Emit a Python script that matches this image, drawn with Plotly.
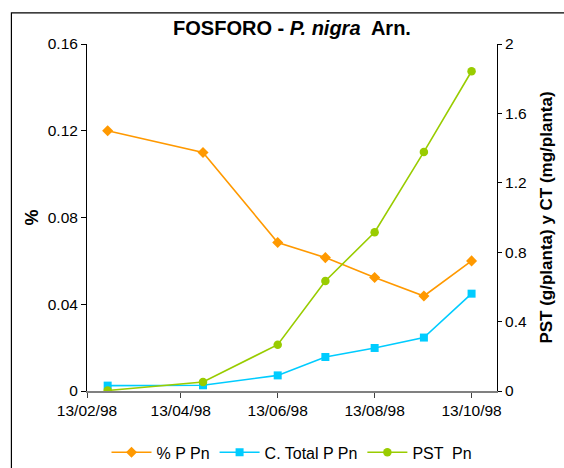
import plotly.graph_objects as go

dates = ['1998-02-26', '1998-04-27', '1998-06-13', '1998-07-13',
         '1998-08-13', '1998-09-13', '1998-10-13']
pct_p = [0.120, 0.110, 0.0685, 0.0615, 0.0523, 0.0438, 0.0600]
ct_p = [0.031, 0.033, 0.090, 0.196, 0.248, 0.308, 0.561]
pst = [0.003, 0.052, 0.267, 0.634, 0.915, 1.378, 1.843]

x_ticks = ['1998-02-13', '1998-04-13', '1998-06-13', '1998-08-13', '1998-10-13']
x_labels = ['13/02/98', '13/04/98', '13/06/98', '13/08/98', '13/10/98']
y1_ticks = [0, 0.04, 0.08, 0.12, 0.16]
y1_labels = ['0', '0.04', '0.08', '0.12', '0.16']
y2_ticks = [0, 0.4, 0.8, 1.2, 1.6, 2]
y2_labels = ['0', '0.4', '0.8', '1.2', '1.6', '2']

FONT = 'Liberation Sans, Arial, sans-serif'
ORANGE = '#FF9900'
CYAN = '#00CCFF'
GREEN = '#99CC00'

fig = go.Figure()
fig.add_trace(go.Scatter(x=dates, y=pct_p, name='% P Pn', mode='lines+markers',
                         line=dict(color=ORANGE, width=1.6),
                         marker=dict(symbol='diamond', size=8.5, color=ORANGE),
                         yaxis='y'))
fig.add_trace(go.Scatter(x=dates, y=ct_p, name='C. Total P Pn', mode='lines+markers',
                         line=dict(color=CYAN, width=1.6),
                         marker=dict(symbol='square', size=8, color=CYAN),
                         yaxis='y2'))
fig.add_trace(go.Scatter(x=dates, y=pst, name='PST  Pn', mode='lines+markers',
                         line=dict(color=GREEN, width=1.6),
                         marker=dict(symbol='circle', size=8.5, color=GREEN),
                         yaxis='y2'))

L, R, T, B = 86.7, 66.7, 44, 77.3
W, H = 564, 468
pw = W - L - R
ph = H - T - B

def px(x):
    return (x - L) / pw

def py(y):
    return (H - B - y) / ph

fig.update_layout(
    width=W, height=H,
    margin=dict(l=L, r=R, t=T, b=B, autoexpand=False),
    paper_bgcolor='white', plot_bgcolor='white',
    font=dict(family=FONT, size=15.5, color='black'),
    title=dict(text='<b>FOSFORO - <i>P. nigra</i>  Arn.</b>',
               font=dict(family=FONT, size=20, color='black'),
               x=px(292), xref='paper', xanchor='center',
               y=1 - 28 / H, yref='container', yanchor='middle'),
    showlegend=True,
    legend=dict(orientation='h', x=0.5, xanchor='center', y=py(452), yanchor='middle',
                font=dict(family=FONT, size=16, color='black'),
                itemwidth=40,
                bgcolor='rgba(0,0,0,0)', traceorder='normal'),
    xaxis=dict(type='date', range=['1998-02-13', '1998-10-29'], automargin=False,
               tickvals=x_ticks, ticktext=x_labels, tickangle=0,
               showgrid=False, zeroline=False,
               showline=True, linecolor='#808080', linewidth=1.5,
               ticks='outside', ticklen=5, tickcolor='#404040', tickwidth=1,
               tickfont=dict(family=FONT, size=15.5, color='black')),
    yaxis=dict(range=[0, 0.16], tickvals=y1_ticks, ticktext=y1_labels, automargin=False,
               showgrid=False, zeroline=False,
               showline=True, linecolor='black', linewidth=1,
               ticks='outside', ticklen=5, tickcolor='black',
               tickfont=dict(family=FONT, size=15.5, color='black'),
               title=dict(text='<b>%</b>', font=dict(family=FONT, size=18, color='black'),
                          standoff=4)),
    yaxis2=dict(range=[0, 2], tickvals=y2_ticks, ticktext=y2_labels, automargin=False,
                overlaying='y', side='right', anchor='x',
                showgrid=False, zeroline=False,
                showline=True, linecolor='black', linewidth=1,
                ticks='outside', ticklen=4, tickcolor='black',
                tickfont=dict(family=FONT, size=15.5, color='black'),
                title=dict(text='<b>PST (g/planta) y CT (mg/planta)</b>',
                           font=dict(family=FONT, size=17, color='black'),
                           standoff=14)),
    yaxis3=dict(range=[0, 2], tickvals=y2_ticks, overlaying='y', side='right', anchor='x',
                automargin=False,
                showgrid=False, zeroline=False, showline=False,
                ticks='inside', ticklen=4, tickcolor='black',
                showticklabels=False),
    shapes=[dict(type='rect', xref='paper', yref='paper',
                 x0=px(11), x1=px(600), y0=py(13), y1=py(520),
                 line=dict(color='black', width=1.2), fillcolor='rgba(0,0,0,0)',
                 layer='above')],
)

fig.write_html('out.html')
